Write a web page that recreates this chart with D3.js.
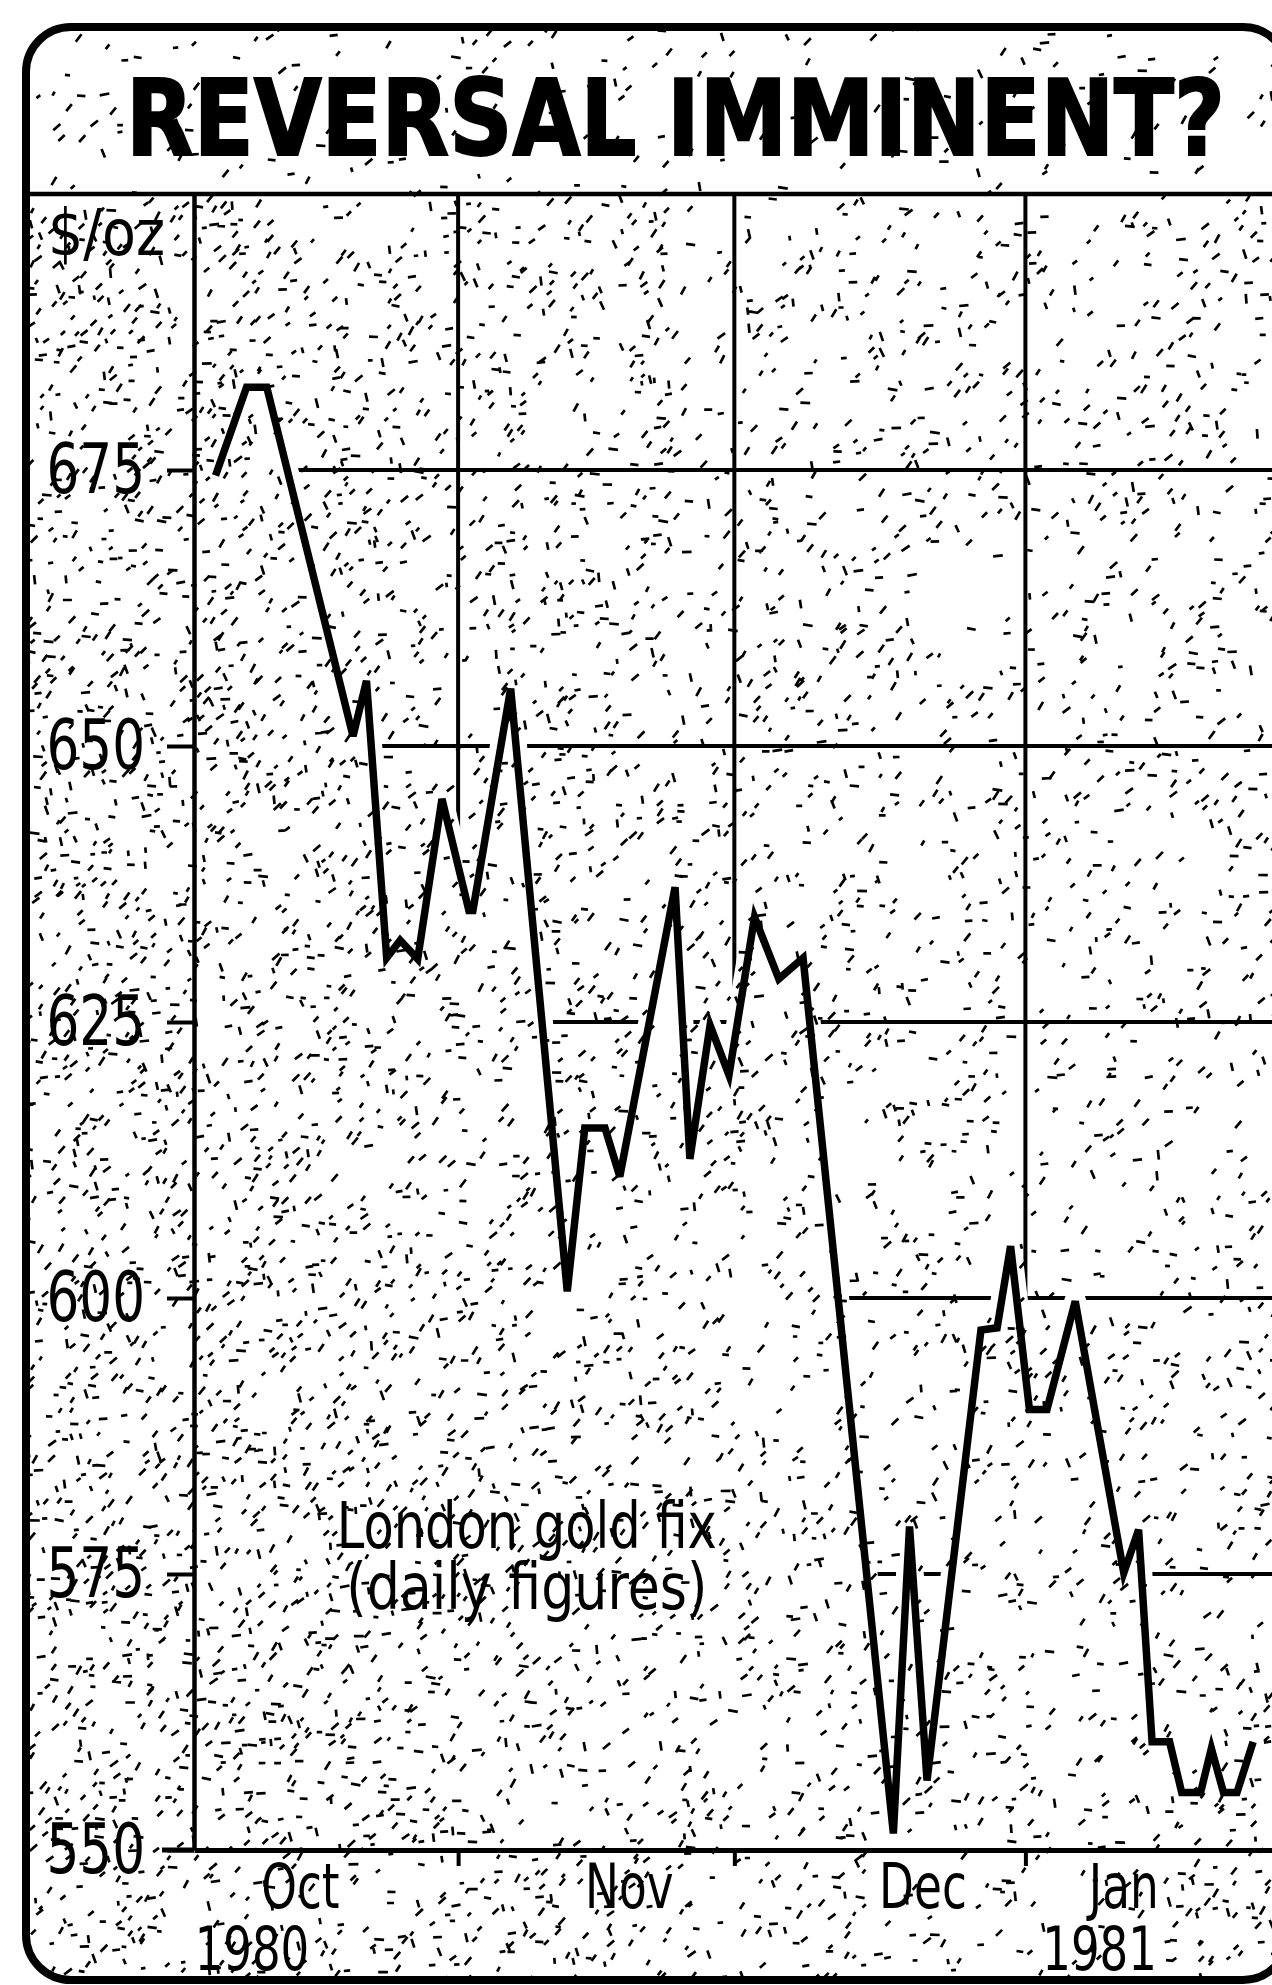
<!DOCTYPE html>
<html>
<head>
<meta charset="utf-8">
<script src="https://d3js.org/d3.v7.min.js"></script>
<style>
html, body { margin: 0; padding: 0; background: #fff; }
svg { display: block; }
text { font-family: 'Liberation Sans Narrow', 'DejaVu Sans Condensed', 'Roboto Condensed', sans-serif; fill: #000; }
</style>
</head>
<body>
<svg id="chart"></svg>
<script>
//chart texts
var titleText = "REVERSAL IMMINENT?";
var unitLabel = "$/oz";
var noteLines = ["London gold fix", "(daily figures)"];

//London gold fix, day = position along the time axis
var days   = [1.6, 3.9, 5.4, 11.8, 12.8, 14.3, 15.3, 16.6, 18.4, 20.4, 20.7, 23.5,
              27.7, 29.0, 30.5, 31.6, 35.7, 36.8, 38.3, 39.7, 41.6, 43.4, 45.2,
              51.9, 53.1, 54.4, 58.4, 59.6, 60.6, 62.0, 63.3, 65.4,
              69.0, 70.1, 71.1, 72.4, 73.3, 74.7, 75.5, 76.4, 77.4, 78.6];
var prices = [674.5, 682.5, 682.5, 650.9, 655.9, 630.8, 632.4, 630.7, 645.2, 635.1, 635.1, 655.2,
              600.6, 615.4, 615.4, 611.0, 637.2, 612.6, 624.7, 620.2, 634.5, 628.9, 630.8,
              551.5, 579.3, 556.3, 597.1, 597.3, 604.7, 589.9, 589.9, 599.7,
              575.1, 579.0, 559.8, 559.8, 555.2, 555.2, 559.2, 555.2, 555.2, 559.8];

//axes
var priceTicks = [550, 575, 600, 625, 650, 675];
var monthBreaks = [19.6, 40.1, 61.7];
var monthLabels = ["Oct", "Nov", "Dec", "Jan"];
var monthLabelDays = [7.9, 32.3, 54.1, 69.0];
var yearLabels = ["1980", "1981"];
var yearLabelDays = [4.3, 67.2];

var W = 1272, H = 1985;
var plot = {left: 194, top: 194, right: 1272, bottom: 1850};

var svg = d3.select("#chart").attr("width", W).attr("height", H);
var defs = svg.append("defs");

var x = d3.scaleLinear().domain([0, 80]).range([plot.left, plot.right]);
var y = d3.scaleLinear().domain([550, 700]).range([plot.bottom, plot.top]);

var pts = days.map(function(d, i) { return [x(d), y(prices[i])]; });
var line = d3.line();

//squeeze text sideways, the original face is a tall condensed gothic
var condense = function(sel, f)
{
    sel.each(function()
    {
        var w = this.getComputedTextLength();
        d3.select(this).attr("textLength", w * f).attr("lengthAdjust", "spacingAndGlyphs");
    });
};

//frame clip for the stipple
defs.append("clipPath").attr("id", "frameClip")
    .append("rect").attr("x", 30).attr("y", 31).attr("width", 1262).attr("height", 1945).attr("rx", 41);

//gridlines only show above the price line, with a gap round it
var mask = defs.append("mask").attr("id", "aboveLine")
    .attr("maskUnits", "userSpaceOnUse").attr("x", 0).attr("y", 0).attr("width", W).attr("height", H);
var last = pts[pts.length - 1];
var abovePts = pts.concat([[W + 20, last[1]], [W + 20, plot.top - 20], [pts[0][0], plot.top - 20]]);
mask.append("path").attr("d", line(abovePts) + "Z").attr("fill", "#fff");
mask.append("path").attr("d", line(pts)).attr("fill", "none")
    .attr("stroke", "#000").attr("stroke-width", 22)
    .attr("stroke-linejoin", "round").attr("stroke-linecap", "round");

//stipple texture (seeded, not data)
var seed = 12345;
var rnd = function() { seed = (seed * 16807) % 2147483647; return seed / 2147483647; };
var density = function(px, py)
{
    if (py < plot.top) return 0.0009;
    var left = Math.max(0, Math.min(1, (900 - px) / 700));
    return 0.0019 + 0.0016 * left;
};
var dots = "";
for (var gy = 20; gy < H; gy += 10)
{
    for (var gx = 20; gx < W; gx += 10)
    {
        if (rnd() < density(gx, gy) * 100)
        {
            var cx = gx + rnd() * 10, cy = gy + rnd() * 10;
            var len = 2.2 + rnd() * 2.8;
            var r = rnd(), ang;
            if (r < 0.55) ang = -0.6 - rnd() * 0.5;
            else if (r < 0.85) ang = -0.2 + rnd() * 0.4;
            else ang = 1.1 + rnd() * 0.4;
            var dx = Math.cos(ang) * len, dy = Math.sin(ang) * len;
            dots += "M" + (cx - dx).toFixed(1) + "," + (cy - dy).toFixed(1) +
                    "L" + (cx + dx).toFixed(1) + "," + (cy + dy).toFixed(1);
        }
    }
}
svg.append("path").attr("clip-path", "url(#frameClip)")
    .attr("d", dots).attr("fill", "none").attr("stroke", "#000").attr("stroke-width", 2.7);

//frame and header
svg.append("rect").attr("x", 26).attr("y", 27).attr("width", 1262).attr("height", 1953).attr("rx", 45)
    .attr("fill", "none").attr("stroke", "#000").attr("stroke-width", 8);
svg.append("line").attr("x1", 26).attr("x2", W).attr("y1", plot.top).attr("y2", plot.top)
    .attr("stroke", "#000").attr("stroke-width", 4.5);
svg.append("text").attr("x", 126).attr("y", 155)
    .attr("font-size", 106).attr("font-weight", "bold")
    .attr("stroke", "#000").attr("stroke-width", 2)
    .attr("textLength", 1099).attr("lengthAdjust", "spacingAndGlyphs")
    .text(titleText);

//gridlines
var grid = svg.append("g").attr("mask", "url(#aboveLine)")
    .attr("stroke", "#000").attr("stroke-width", 4);
grid.selectAll("line.h").data(priceTicks.filter(function(p) { return p > 550; }))
    .enter().append("line").attr("class", "h")
    .attr("x1", plot.left).attr("x2", W)
    .attr("y1", function(d) { return y(d); }).attr("y2", function(d) { return y(d); });
grid.selectAll("line.v").data(monthBreaks)
    .enter().append("line").attr("class", "v")
    .attr("y1", plot.top).attr("y2", plot.bottom)
    .attr("x1", function(d) { return x(d); }).attr("x2", function(d) { return x(d); });

//y axis
var yAxis = svg.append("g").attr("transform", "translate(" + plot.left + ",0)")
    .call(d3.axisLeft(y).tickValues(priceTicks).tickSize(27).tickSizeOuter(0).tickPadding(22));
yAxis.select(".domain").attr("stroke-width", 4.5);
yAxis.selectAll(".tick line").attr("stroke-width", 4);
yAxis.selectAll(".tick text").attr("font-size", 70).attr("fill", "#000")
    .style("font-family", "'Liberation Sans Narrow', 'DejaVu Sans Condensed', sans-serif")
    .call(condense, 0.82);

svg.append("text").attr("x", 48).attr("y", 255).attr("font-size", 64)
    .attr("textLength", 117).attr("lengthAdjust", "spacingAndGlyphs").text(unitLabel);

//x axis
var xAxis = svg.append("g").attr("transform", "translate(0," + plot.bottom + ")")
    .call(d3.axisBottom(x).tickValues(monthBreaks).tickSize(16).tickSizeOuter(0).tickFormat(""));
xAxis.select(".domain").attr("stroke-width", 5);
xAxis.selectAll(".tick line").attr("stroke-width", 4);
svg.append("line").attr("x1", 162).attr("x2", plot.left).attr("y1", plot.bottom).attr("y2", plot.bottom)
    .attr("stroke", "#000").attr("stroke-width", 5);

svg.selectAll("text.month").data(monthLabels).enter().append("text").attr("class", "month")
    .attr("x", function(d, i) { return x(monthLabelDays[i]); })
    .attr("y", plot.bottom + 58).attr("text-anchor", "middle").attr("font-size", 63)
    .text(function(d) { return d; })
    .call(condense, 0.8);
svg.selectAll("text.year").data(yearLabels).enter().append("text").attr("class", "year")
    .attr("x", function(d, i) { return x(yearLabelDays[i]); })
    .attr("y", plot.bottom + 120).attr("text-anchor", "middle").attr("font-size", 61)
    .text(function(d) { return d; })
    .call(condense, 0.82);

//price line
svg.append("path").attr("d", line(pts)).attr("fill", "none")
    .attr("stroke", "#000").attr("stroke-width", 7.5)
    .attr("stroke-linejoin", "miter").attr("stroke-miterlimit", 4);

//note
svg.selectAll("text.note").data(noteLines).enter().append("text").attr("class", "note")
    .attr("x", x(24.7)).attr("y", function(d, i) { return y(577.4) + i * 61; })
    .attr("text-anchor", "middle").attr("font-size", 64)
    .attr("textLength", function(d, i) { return i === 0 ? 380 : 361; })
    .attr("lengthAdjust", "spacingAndGlyphs")
    .text(function(d) { return d; });
</script>
</body>
</html>
